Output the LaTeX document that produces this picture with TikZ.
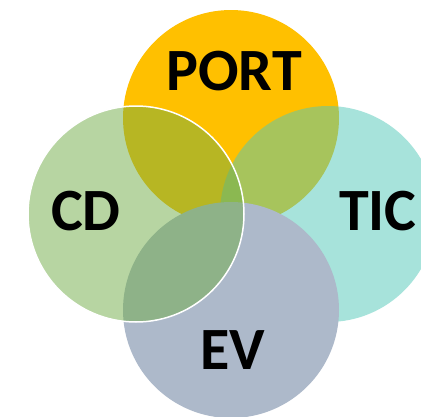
\documentclass[tikz,border=0pt]{standalone}
\usepackage{fontspec}
\setmainfont{Carlito}
\begin{document}
\begin{tikzpicture}[x=1pt,y=-1pt,
  lbl/.style={font=\fontsize{60}{60}\selectfont\bfseries, text=black, inner sep=0pt}]
\definecolor{portc}{HTML}{FFC000}
\definecolor{ticc}{RGB}{81,201,185}
\definecolor{evc}{HTML}{ADB9CA}
\definecolor{cdc}{HTML}{70AD47}
\useasboundingbox (0,0) rectangle (421,416);
\fill[white] (0,0) rectangle (421,416);
\begin{scope}
\clip (0,0) rectangle (421,416);
\fill[portc] (231,118) circle[radius=108];
\fill[ticc, fill opacity=0.5] (328,214) circle[radius=108];
\fill[evc] (231,310) circle[radius=108];
\filldraw[fill=cdc, fill opacity=0.5, draw=white, line width=1.5pt] (136,214) circle[radius=108];
\end{scope}
\node[lbl] (port) at (234,71) {PORT};
\node[lbl] (cd) at (86,211) {CD};
\node[lbl] (tic) at (378,211) {TIC};
\node[lbl] (ev) at (233,350) {EV};
\end{tikzpicture}
\end{document}
